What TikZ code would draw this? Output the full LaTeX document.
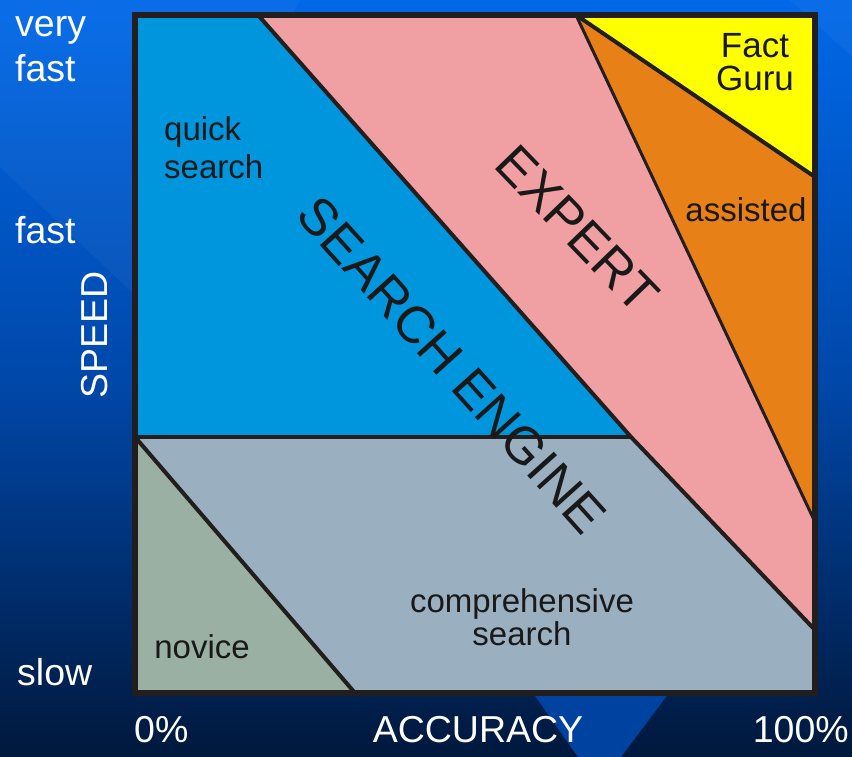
\documentclass[tikz,border=0pt]{standalone}
\usepackage{fontspec}
\setmainfont{Liberation Sans}
\begin{document}
\begin{tikzpicture}[x=1pt,y=1pt,
  divline/.style={draw=linegray,line width=4pt,line join=round},
  axislabel/.style={text=white,font=\fontsize{37.5}{39}\selectfont,inner sep=0pt},
  arealabel/.style={text=black!90,font=\fontsize{33}{36}\selectfont,inner sep=0pt,align=center},
  biglabel/.style={text=black!90,font=\fontsize{52}{54}\selectfont,inner sep=0pt}]
\definecolor{bgtop}{RGB}{0,104,232}
\definecolor{bgmid}{RGB}{0,72,170}
\definecolor{bgbot}{RGB}{0,24,60}
\definecolor{qblue}{RGB}{0,150,222}
\definecolor{pinkr}{RGB}{240,160,162}
\definecolor{oranger}{RGB}{232,128,24}
\definecolor{yellowr}{RGB}{255,255,0}
\definecolor{grayr}{RGB}{154,176,192}
\definecolor{noviceg}{RGB}{154,176,162}
\definecolor{linegray}{RGB}{34,30,30}
\definecolor{stripe}{RGB}{0,66,160}
\useasboundingbox (0,0) rectangle (852,757);
% background
\shade[top color=bgtop,bottom color=bgbot,middle color=bgmid] (0,0) rectangle (852,757);
\fill[white,opacity=0.04] (0,590) -- (0,757) -- (300,757) -- (140,457) -- cycle;
\fill[white,opacity=0.04] (790,757) -- (852,757) -- (852,700) -- cycle;
\fill[stripe] (533,64) -- (669,64) -- (621,0) -- (578,0) -- cycle;
% corner coordinates
\coordinate (TL) at (135,742);
\coordinate (TR) at (815,742);
\coordinate (BL) at (135,64);
\coordinate (BR) at (815,64);
\coordinate (H0) at (135,320);
\coordinate (A0) at (258,742);
\coordinate (A1) at (631,320);
\coordinate (A2) at (815,127);
\coordinate (O0) at (576,742);
\coordinate (O1) at (815,235);
\coordinate (Y1) at (815,580);
\coordinate (N1) at (355,64);
% regions
\fill[qblue] (TL) -- (A0) -- (A1) -- (H0) -- cycle;
\fill[pinkr] (A0) -- (O0) -- (O1) -- (A2) -- (A1) -- cycle;
\fill[oranger] (O0) -- (Y1) -- (O1) -- cycle;
\fill[yellowr] (O0) -- (TR) -- (Y1) -- cycle;
\fill[grayr] (H0) -- (A1) -- (A2) -- (BR) -- (N1) -- cycle;
\fill[noviceg] (H0) -- (N1) -- (BL) -- cycle;
% dividing lines
\draw[divline] (A0) -- (A1) -- (A2);
\draw[divline] (H0) -- (A1);
\draw[divline] (H0) -- (N1);
\draw[divline,line width=3pt] (O0) -- (O1);
\draw[divline] (O0) -- (Y1);
\draw[draw=linegray,line width=6pt] (TL) rectangle (BR);
% axis labels
\node[axislabel,anchor=west] (vf1) at (15,727) {very};
\node[axislabel,anchor=west] (vf2) at (15,689) {fast};
\node[axislabel,anchor=west] (fast) at (15,527) {fast};
\node[axislabel,anchor=west] (slow) at (17,85) {slow};
\node[axislabel,rotate=90] (speed) at (95,422) {SPEED};
\node[axislabel,anchor=west] (zero) at (134,27) {0\%};
\node[axislabel] (acc) at (478,27) {ACCURACY};
\node[axislabel,anchor=east] (hund) at (849,27) {100\%};
% area labels
\node[arealabel,anchor=west] (q1) at (164,625) {quick};
\node[arealabel,anchor=west] (q2) at (164,590) {search};
\node[arealabel,font=\fontsize{35}{37}\selectfont] (fg) at (755,695) {Fact\\[-4pt]Guru};
\node[arealabel] (ass) at (746,547) {assisted};
\node[arealabel] (nov) at (202,110) {novice};
\node[arealabel] (comp) at (522,140) {comprehensive\\[-3pt]search};
\node[biglabel,rotate=-48] (se) at (452,392) {SEARCH ENGINE};
\node[biglabel,rotate=-46] (ex) at (577,528) {EXPERT};
\end{tikzpicture}
\end{document}
